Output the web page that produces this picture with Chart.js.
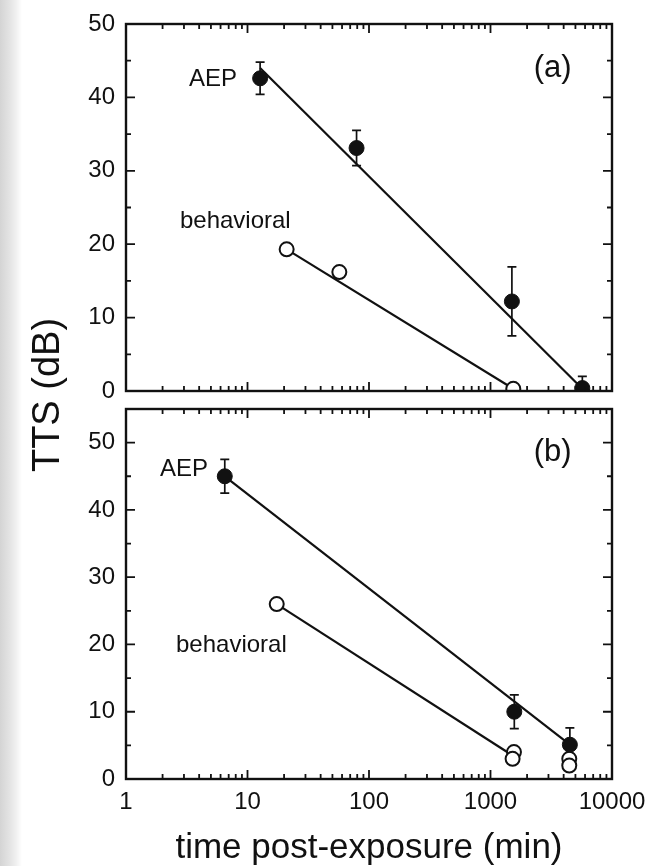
<!DOCTYPE html>
<html>
<head>
<meta charset="utf-8">
<script src="https://cdn.jsdelivr.net/npm/chart.js@4.4.1/dist/chart.umd.min.js"></script>
<style>
  html, body { margin: 0; padding: 0; background: #fff; }
  #page { position: relative; width: 661px; height: 866px; overflow: hidden; background: #fff;
          font-family: "Liberation Sans", Arial, sans-serif; color: #111; }
  #edge { position: absolute; left: 0; top: 0; width: 22px; height: 866px;
          background: linear-gradient(to right, #d4d4d4 0px, #e4e4e4 10px, #f0f0f0 16px, #ffffff 22px); }
  canvas { position: absolute; left: 0; }
  #cvA { top: 0; }
  #cvB { top: 400px; }
  .ytitle { position: absolute; left: 46px; top: 395px; width: 320px; height: 42px; line-height: 42px;
            text-align: center; font-size: 38px; transform: translate(-50%, -50%) rotate(-90deg); white-space: nowrap; }
  .xtitle { position: absolute; left: 0; width: 738px; top: 828px; height: 35px; line-height: 35px;
            text-align: center; font-size: 35px; white-space: nowrap; }
</style>
</head>
<body>
<div id="page">
  <div id="edge"></div>
  <canvas id="cvA" width="661" height="400"></canvas>
  <canvas id="cvB" width="661" height="466"></canvas>
  <div class="ytitle">TTS (dB)</div>
  <div class="xtitle">time post-exposure (min)</div>
</div>
<script>
// ---- axis ticks ----
const xTickValues = [1, 10, 100, 1000, 10000];
const yTicksA = [0, 10, 20, 30, 40, 50];
const yTicksB = [0, 10, 20, 30, 40, 50];

// ---- panel (a) ----
const aepTimeA = [12.7, 79, 1500, 5700];
const aepTtsA  = [42.6, 33.1, 12.2, 0.4];
const aepErrA  = [2.2, 2.4, 4.7, 1.6];
const behTimeA = [21, 57, 1540];
const behTtsA  = [19.3, 16.2, 0.3];
const aepFitTimeA = [12.7, 5700];
const aepFitTtsA  = [44.0, 0.3];
const behFitTimeA = [21, 1540];
const behFitTtsA  = [19.3, 0.3];

// ---- panel (b) ----
const aepTimeB = [6.5, 1570, 4500];
const aepTtsB  = [45.0, 10.0, 5.1];
const aepErrB  = [2.5, 2.5, 2.5];
const behTimeB = [17.4, 1560, 1520, 4450, 4450];
const behTtsB  = [26.0, 4.0, 3.0, 3.0, 2.0];
const aepFitTimeB = [6.5, 4500];
const aepFitTtsB  = [45.0, 5.1];
const behFitTimeB = [17.4, 1520];
const behFitTtsB  = [26.0, 3.5];

const FONT = '"Liberation Sans", Arial, sans-serif';
const INK = '#111';

const pts = (xs, ys) => xs.map((x, i) => ({ x: x, y: ys[i] }));

// Frame, inward ticks on all four sides, error bars and text labels
const panelDecor = {
  id: 'panelDecor',
  beforeDatasetsDraw(chart, args, opts) {
    const { ctx, chartArea: a, scales } = chart;
    const xs = scales.x, ys = scales.y;
    // error bars beneath markers
    ctx.save();
    ctx.beginPath();
    ctx.rect(a.left, a.top - 2, a.right - a.left, a.bottom - a.top + 2);
    ctx.clip();
    ctx.strokeStyle = INK;
    ctx.lineWidth = 1.7;
    opts.errX.forEach((xv, i) => {
      const px = xs.getPixelForValue(xv);
      const yTop = ys.getPixelForValue(opts.errY[i] + opts.err[i]);
      const yBot = ys.getPixelForValue(opts.errY[i] - opts.err[i]);
      ctx.beginPath();
      ctx.moveTo(px, yTop); ctx.lineTo(px, yBot);
      ctx.moveTo(px - 4.5, yTop); ctx.lineTo(px + 4.5, yTop);
      ctx.moveTo(px - 4.5, yBot); ctx.lineTo(px + 4.5, yBot);
      ctx.stroke();
    });
    ctx.restore();
  },
  afterDraw(chart, args, opts) {
    const { ctx, chartArea: a, scales } = chart;
    const xs = scales.x, ys = scales.y;
    ctx.save();
    ctx.strokeStyle = INK;
    ctx.lineWidth = 2.4;
    ctx.strokeRect(a.left, a.top, a.right - a.left, a.bottom - a.top);
    ctx.lineWidth = 1.8;
    ctx.beginPath();
    // y ticks, left and right
    ys.ticks.forEach(t => {
      const py = ys.getPixelForValue(t.value);
      ctx.moveTo(a.left, py); ctx.lineTo(a.left + 9, py);
      ctx.moveTo(a.right, py); ctx.lineTo(a.right - 9, py);
      const mv = t.value + 5;
      if (mv < ys.max) {
        const pm = ys.getPixelForValue(mv);
        ctx.moveTo(a.left, pm); ctx.lineTo(a.left + 5, pm);
        ctx.moveTo(a.right, pm); ctx.lineTo(a.right - 5, pm);
      }
    });
    // log x ticks, top and bottom
    xs.ticks.forEach(t => {
      const d = t.value;
      const px = xs.getPixelForValue(d);
      ctx.moveTo(px, a.bottom); ctx.lineTo(px, a.bottom - 9);
      ctx.moveTo(px, a.top); ctx.lineTo(px, a.top + 9);
      if (d < xs.max) {
        for (let k = 2; k <= 9; k++) {
          const pm = xs.getPixelForValue(d * k);
          ctx.moveTo(pm, a.bottom); ctx.lineTo(pm, a.bottom - 5);
          ctx.moveTo(pm, a.top); ctx.lineTo(pm, a.top + 5);
        }
      }
    });
    ctx.stroke();
    // text labels
    ctx.fillStyle = INK;
    ctx.textBaseline = 'middle';
    opts.labels.forEach(l => {
      ctx.font = l.size + 'px ' + FONT;
      ctx.textAlign = l.align;
      ctx.fillText(l.text, xs.getPixelForValue(l.x), ys.getPixelForValue(l.y));
    });
    ctx.restore();
  }
};

function makePanel(canvasId, cfg) {
  return new Chart(document.getElementById(canvasId), {
    type: 'scatter',
    data: {
      datasets: [
        { label: 'AEP', data: pts(cfg.aepX, cfg.aepY), pointStyle: 'circle', pointRadius: 7.5,
          backgroundColor: INK, borderColor: INK, borderWidth: 1, showLine: false, order: 0 },
        { label: 'behavioral', data: pts(cfg.behX, cfg.behY), pointStyle: 'circle', pointRadius: 7,
          backgroundColor: '#fff', borderColor: INK, borderWidth: 2, showLine: false, order: 1 },
        { type: 'line', label: 'AEP fit', data: pts(cfg.aepFitX, cfg.aepFitY), borderColor: INK,
          borderWidth: 2.2, pointRadius: 0, fill: false, order: 3 },
        { type: 'line', label: 'behavioral fit', data: pts(cfg.behFitX, cfg.behFitY), borderColor: INK,
          borderWidth: 2.2, pointRadius: 0, fill: false, order: 3 }
      ]
    },
    options: {
      responsive: false,
      animation: false,
      devicePixelRatio: 1,
      layout: { padding: { top: cfg.padTop, right: 49, left: 0, bottom: 0 } },
      plugins: {
        legend: { display: false },
        tooltip: { enabled: false },
        panelDecor: { errX: cfg.aepX, errY: cfg.aepY, err: cfg.aepErr, labels: cfg.labels }
      },
      scales: {
        x: {
          type: 'logarithmic', min: 1, max: 10000,
          afterBuildTicks: s => { s.ticks = xTickValues.map(v => ({ value: v })); },
          afterFit: s => { s.height = cfg.xHeight; s.paddingLeft = 0; s.paddingRight = 0; },
          grid: { display: false, drawTicks: false },
          border: { display: false },
          ticks: { display: cfg.showX, padding: 9, color: INK, font: { family: FONT, size: 24 },
                   maxRotation: 0, autoSkip: false, callback: v => String(v) }
        },
        y: {
          min: 0, max: cfg.yMax,
          afterBuildTicks: s => { s.ticks = cfg.yTicks.map(v => ({ value: v })); },
          afterFit: s => { s.width = 126; s.paddingTop = 0; s.paddingBottom = 0; },
          grid: { display: false, drawTicks: false },
          border: { display: false },
          ticks: { padding: 11, color: INK, font: { family: FONT, size: 24 } }
        }
      }
    },
    plugins: [panelDecor]
  });
}

makePanel('cvA', {
  aepX: aepTimeA, aepY: aepTtsA, aepErr: aepErrA,
  behX: behTimeA, behY: behTtsA,
  aepFitX: aepFitTimeA, aepFitY: aepFitTtsA,
  behFitX: behFitTimeA, behFitY: behFitTtsA,
  yMax: 50, yTicks: yTicksA, padTop: 24, xHeight: 7.5, showX: false,
  labels: [
    { text: 'AEP', x: 8.2, y: 42.4, align: 'right', size: 24 },
    { text: 'behavioral', x: 2.78, y: 23.1, align: 'left', size: 24 },
    { text: '(a)', x: 4650, y: 43.9, align: 'right', size: 31 }
  ]
});

makePanel('cvB', {
  aepX: aepTimeB, aepY: aepTtsB, aepErr: aepErrB,
  behX: behTimeB, behY: behTtsB,
  aepFitX: aepFitTimeB, aepFitY: aepFitTtsB,
  behFitX: behFitTimeB, behFitY: behFitTtsB,
  yMax: 55, yTicks: yTicksB, padTop: 9, xHeight: 87, showX: true,
  labels: [
    { text: 'AEP', x: 4.73, y: 46.0, align: 'right', size: 24 },
    { text: 'behavioral', x: 2.58, y: 19.9, align: 'left', size: 24 },
    { text: '(b)', x: 4650, y: 48.6, align: 'right', size: 31 }
  ]
});
</script>
</body>
</html>
